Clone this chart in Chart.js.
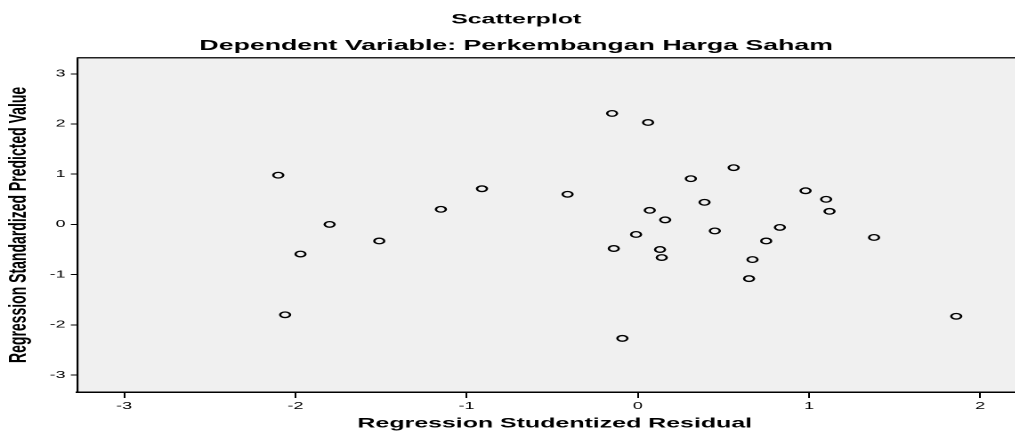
<!DOCTYPE html>
<html>
<head>
<meta charset="utf-8">
<script src="https://cdn.jsdelivr.net/npm/chart.js@4.4.1/dist/chart.umd.min.js"></script>
<style>
  html, body { margin: 0; padding: 0; background: #fff; overflow: hidden; }
  /* the original picture is stretched sideways, so the chart is drawn narrow and widened */
  #wrap { width: 580px; height: 434px; transform: scaleX(1.78); transform-origin: 0 0; }
</style>
</head>
<body>
<div id="wrap"><canvas id="scatterCanvas" width="580" height="434"></canvas></div>
<script>
// values
const residual = [-2.10, -2.06, -1.97, -1.80, -1.51, -1.15, -0.91, -0.41, -0.15, 0.06,
                  -0.14, -0.09, -0.01, 0.07, 0.16, 0.13, 0.14, 0.31, 0.39, 0.45,
                  0.56, 0.65, 0.67, 0.75, 0.83, 0.98, 1.10, 1.12, 1.38, 1.86];
const predicted = [0.98, -1.80, -0.59, 0.00, -0.33, 0.30, 0.71, 0.60, 2.21, 2.03,
                   -0.48, -2.27, -0.20, 0.28, 0.09, -0.50, -0.66, 0.91, 0.44, -0.13,
                   1.13, -1.08, -0.70, -0.33, -0.06, 0.67, 0.50, 0.26, -0.26, -1.83];
const xTicks = [-3, -2, -1, 0, 1, 2];
const yTicks = [-3, -2, -1, 0, 1, 2, 3];

const titleText = "Scatterplot";
const subtitleText = "Dependent Variable: Perkembangan Harga Saham";
const xTitle = "Regression Studentized Residual";
const yTitle = "Regression Standardized Predicted Value";

const points = residual.map((r, i) => ({ x: r, y: predicted[i] }));
const fam = "'Liberation Sans', Arial, sans-serif";

const plotFrame = {
  id: "plotFrame",
  beforeDraw(chart) {
    const a = chart.chartArea;
    const ctx = chart.ctx;
    ctx.save();
    ctx.fillStyle = "#f0f0f0";
    ctx.fillRect(a.left, a.top, a.right - a.left, a.bottom - a.top);
    ctx.restore();
  },
  afterDraw(chart) {
    const a = chart.chartArea;
    const ctx = chart.ctx;
    ctx.save();
    ctx.strokeStyle = "#222";
    ctx.lineWidth = 1.5;
    ctx.beginPath();
    ctx.moveTo(a.left, a.top);
    ctx.lineTo(a.right, a.top);
    ctx.stroke();
    ctx.restore();
  }
};

const scatterChart = new Chart(document.getElementById("scatterCanvas"), {
  type: "scatter",
  data: {
    datasets: [{
      data: points,
      pointStyle: "circle",
      pointRadius: 2.8,
      pointBorderWidth: 1.3,
      pointBorderColor: "#000",
      pointBackgroundColor: "rgba(0,0,0,0)"
    }]
  },
  options: {
    responsive: false,
    animation: false,
    devicePixelRatio: 2,
    layout: { padding: 0, autoPadding: false },
    plugins: {
      legend: { display: false },
      tooltip: { enabled: false },
      title: {
        display: true,
        text: titleText,
        color: "#000",
        font: { family: fam, size: 14, weight: "bold", lineHeight: 1.2 },
        padding: { top: 11, bottom: 0 }
      },
      subtitle: {
        display: true,
        text: subtitleText,
        color: "#000",
        font: { family: fam, size: 15, weight: "bold", lineHeight: 1.2 },
        padding: { top: 9.2, bottom: 2.8 }
      }
    },
    scales: {
      x: {
        type: "linear",
        min: -3.275,
        max: 2.305,
        afterBuildTicks: (s) => { s.ticks = xTicks.map(v => ({ value: v })); },
        afterFit: (s) => { s.height = 42; s.paddingLeft = 0; s.paddingRight = 0; },
        ticks: { color: "#000", font: { family: fam, size: 10 }, padding: 2, callback: (v) => String(v) },
        grid: { drawOnChartArea: false, drawTicks: true, tickLength: 6, tickColor: "#000", tickWidth: 1 },
        border: { display: true, color: "#000", width: 1.5 },
        title: {
          display: true,
          text: xTitle,
          color: "#000",
          font: { family: fam, size: 14, weight: "bold" },
          padding: { top: 0, bottom: 2 }
        }
      },
      y: {
        type: "linear",
        min: -3.338,
        max: 3.318,
        afterBuildTicks: (s) => { s.ticks = yTicks.map(v => ({ value: v })); },
        afterFit: (s) => { s.width = 43.3; s.paddingTop = 0; s.paddingBottom = 0; },
        ticks: { color: "#000", font: { family: fam, size: 10 }, padding: 3, callback: (v) => String(v) },
        grid: { drawOnChartArea: false, drawTicks: true, tickLength: 3.5, tickColor: "#000", tickWidth: 1 },
        border: { display: true, color: "#000", width: 1.1 },
        title: {
          display: true,
          text: yTitle,
          color: "#000",
          font: { family: fam, size: 14, weight: "bold" },
          padding: { top: 2, bottom: 0 }
        }
      }
    }
  },
  plugins: [plotFrame]
});
</script>
</body>
</html>
